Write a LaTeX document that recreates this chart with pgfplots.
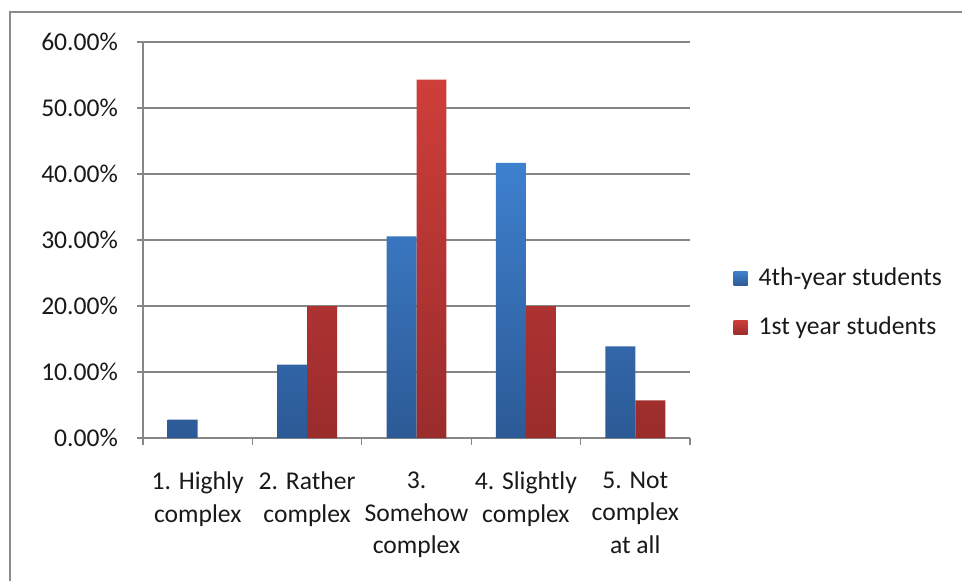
\documentclass[border=0pt]{standalone}
\usepackage{pgfplots}
\pgfplotsset{compat=1.18}
\usepackage{fontspec}
\setmainfont{Carlito}

\definecolor{blueTop}{RGB}{62,128,206}
\definecolor{blueBot}{RGB}{44,90,150}
\definecolor{redTop}{RGB}{206,62,58}
\definecolor{redBot}{RGB}{154,44,44}
\definecolor{gridgray}{RGB}{134,134,134}
\definecolor{framegray}{RGB}{140,140,140}
\definecolor{txt}{RGB}{25,25,25}

\pgfplotsset{
  sq legend/.style={
    legend image code/.code={%
      \path[##1,draw=none] (0pt,-3.5pt) rectangle (7pt,3.5pt);
      \path (10.5pt,0pt);% spacing before the entry text
    }
  }
}

\begin{document}
\begin{tikzpicture}
\useasboundingbox (0,0) rectangle (481pt,290pt);
% chart frame (left and top edges)
\draw[framegray, line width=1pt] (5pt,-2pt) -- (5pt,284pt) -- (484pt,284pt);

\begin{axis}[
  at={(71.5pt,71pt)}, anchor=south west,
  scale only axis,
  width=273.5pt, height=198pt,
  xmin=-0.5, xmax=4.5,
  ymin=0, ymax=60,
  axis lines*=left,
  axis line style={gridgray, line width=0.6pt},
  ybar=0pt, bar width=0.274,
  ytick={0,10,20,30,40,50,60},
  yticklabels={0.00\%,10.00\%,20.00\%,30.00\%,40.00\%,50.00\%,60.00\%},
  xtick={0,1,2,3,4},
  xticklabels={{1. Highly\\complex},{2. Rather\\complex},{3.\\Somehow\\complex},{4. Slightly\\complex},{5. Not\\complex\\at all}},
  minor xtick={-0.5,0.5,1.5,2.5,3.5,4.5},
  tick align=outside,
  major tick length=3pt,
  minor tick length=3.5pt,
  every major x tick/.append style={draw=none},
  tick style={gridgray, line width=0.6pt},
  ymajorgrids,
  grid style={gridgray, line width=0.6pt},
  tick label style={font=\fontsize{12.8}{16.2}\selectfont, text=txt},
  xticklabel style={align=center, anchor=north, yshift=-10.5pt},
  yticklabel style={anchor=east, xshift=-6pt},
  legend style={
    at={(1.079,0.341)}, anchor=west, xshift=-3pt,
    draw=none, fill=none,
    font=\fontsize{12.8}{15}\selectfont, text=txt,
    row sep=10pt,
  },
  legend cell align=left,
]
\addplot[draw=none, top color=blueTop, bottom color=blueBot, sq legend]
  coordinates {(0,2.78) (1,11.11) (2,30.56) (3,41.67) (4,13.89)};
\addlegendentry{4th-year students}
\addplot[draw=none, top color=redTop, bottom color=redBot, sq legend]
  coordinates {(1,20.00) (2,54.29) (3,20.00) (4,5.71)};
\addlegendentry{1st year students}
\end{axis}
\end{tikzpicture}
\end{document}
